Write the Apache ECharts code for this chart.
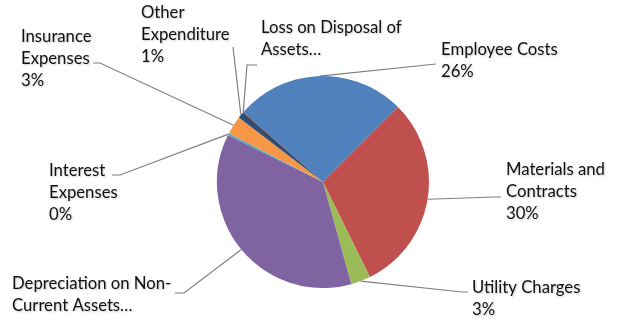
<!DOCTYPE html>
<html><head><meta charset="utf-8">
<script src="https://cdn.jsdelivr.net/npm/echarts@6/dist/echarts.min.js"></script>
<style>html,body{margin:0;padding:0;background:#fff}#c{width:622px;height:320px}</style>
</head><body><div id="c"></div>
<script>
// ---- data ----
const categories = ['Employee Costs','Materials and Contracts','Utility Charges','Depreciation on Non-Current Assets','Interest Expenses','Insurance Expenses','Other Expenditure','Loss on Disposal of Assets'];
const values = [26.0, 30.2, 3.0, 36.6, 0.3, 2.8, 1.0, 0.1];
const labelNames = ['Employee Costs','Materials and\nContracts','Utility Charges','Depreciation on Non-\nCurrent Assets…','Interest\nExpenses','Insurance\nExpenses','Other\nExpenditure','Loss on Disposal of\nAssets…'];
const showPercent = [true, true, true, false, true, true, true, false];

// ---- styling / layout ----
const colors = ['#4F81BD','#C0504D','#9BBB59','#8064A2','#4BACC6','#F79646','#2C4D75','#772C2A'];
const labelPos = [[441,39],[506,159],[472,277],[12,273],[49,160],[21,26],[141,2],[261,17]];
const elbows = [[436,64],[495,197],[462,292],[184,293],[120,175],[100,63],[233,47],[247,65]];
const ends   = [[436,64],[501,197],[468,292],[175,293],[112,175],[93,63],[233,47],[257,65]];

const data = categories.map((c, i) => ({ name: c, value: values[i], itemStyle: { color: colors[i] } }));

const chart = echarts.init(document.getElementById('c'), null, { renderer: 'canvas' });
chart.setOption({
  animation: false,
  backgroundColor: '#fff',
  series: [{
    type: 'pie',
    center: [323, 182],
    radius: 106,
    startAngle: 138.6,
    clockwise: true,
    avoidLabelOverlap: false,
    data: data,
    itemStyle: { borderWidth: 0 },
    label: {
      show: true,
      position: 'outside',
      formatter: p => labelNames[p.dataIndex] + (showPercent[p.dataIndex] ? '\n' + Math.round(p.percent) + '%' : ''),
      color: '#111',
      fontFamily: 'Lato',
      fontSize: 16.7,
      lineHeight: 22,
      align: 'left',
      textShadowColor: 'rgba(0,0,0,0.22)',
      textShadowBlur: 2,
      textShadowOffsetX: 1,
      textShadowOffsetY: 1
    },
    labelLine: { show: true, length: 10, length2: 10, lineStyle: { color: '#7f7f7f', width: 1.2 } },
    labelLayout: function (params) {
      const i = params.dataIndex;
      const s = params.labelLinePoints ? params.labelLinePoints[0] : elbows[i];
      return {
        x: labelPos[i][0], y: labelPos[i][1], align: 'left', verticalAlign: 'top',
        labelLinePoints: [s, elbows[i], ends[i]]
      };
    },
    emphasis: { disabled: true }
  }]
});
</script></body></html>
